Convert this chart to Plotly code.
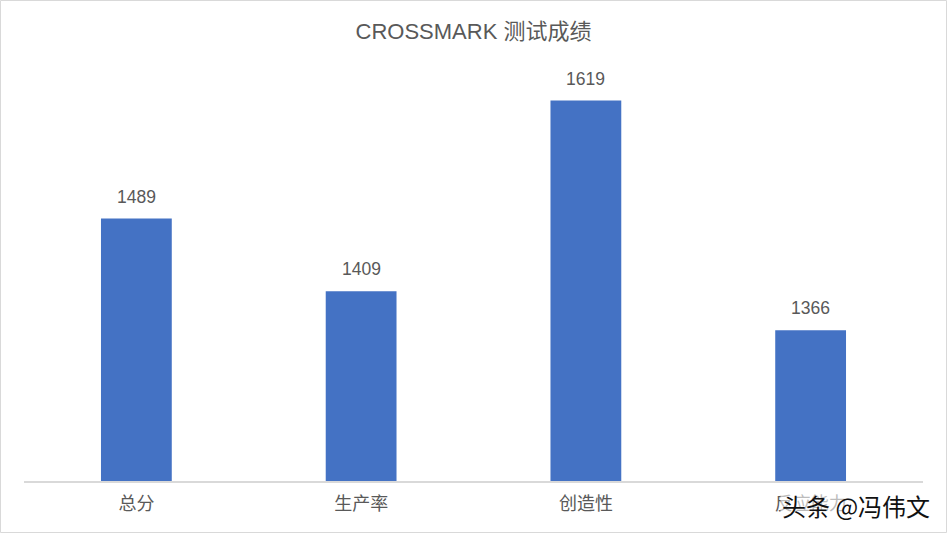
import plotly.graph_objects as go

categories = ["总分", "生产率", "创造性", "反应能力"]
scores = [1489, 1409, 1619, 1366]
title_text = "CROSSMARK 测试成绩"
watermark = "头条 @冯伟文"

W, H = 947, 533
ml, mr, mt, mb = 24, 24, 27, 52
pw = W - ml - mr
ph = H - mt - mb

FONT = "Liberation Sans, Arial, Noto Sans CJK SC, sans-serif"

fig = go.Figure()
fig.add_trace(go.Bar(
    x=categories, y=scores,
    marker=dict(color="#4472C4", line=dict(width=0)),
    width=0.315,
    cliponaxis=False,
    hoverinfo="x+y",
))

for c, v in zip(categories, scores):
    fig.add_annotation(x=c, y=v, text=str(v), showarrow=False,
                       yanchor="bottom", yshift=10,
                       font=dict(family=FONT, size=17.5, color="#595959"))

fig.update_layout(
    width=W, height=H,
    margin=dict(l=ml, r=mr, t=mt, b=mb, pad=0),
    paper_bgcolor="white", plot_bgcolor="white",
    showlegend=False,
    title=dict(text=title_text, x=0.5, xanchor="center",
               y=1 - 31 / H, yanchor="middle", yref="container",
               font=dict(family=FONT, size=22, color="#595959")),
    xaxis=dict(showline=True, linecolor="#D9D9D9", linewidth=1.5,
               ticks="", showgrid=False, zeroline=False,
               tickfont=dict(family="Noto Sans CJK SC, sans-serif", size=18, color="#595959"),
               ticklabelstandoff=6),
    yaxis=dict(range=[1200, 1700], visible=False, showgrid=False, zeroline=False),
)

# outer border
fig.add_shape(type="rect", xref="paper", yref="paper",
              x0=-(ml - 0.5) / pw, x1=1 + (mr - 0.5) / pw,
              y0=-(mb - 0.5) / ph, y1=1 + (mt - 0.5) / ph,
              line=dict(color="#D9D9D9", width=1), fillcolor="rgba(0,0,0,0)")

# watermark
fig.add_annotation(xref="paper", yref="paper", x=(856 - ml) / pw, y=-(505 - H + mb) / ph,
                   text=watermark, showarrow=False, xanchor="center", yanchor="middle",
                   bgcolor="rgba(255,255,255,0.6)",
                   font=dict(family="Noto Sans CJK SC, sans-serif", size=24, color="#111111"))

fig.write_html("out.html", config={"displayModeBar": False},
               post_script="document.body.style.margin='0';document.body.style.overflow='hidden';")
